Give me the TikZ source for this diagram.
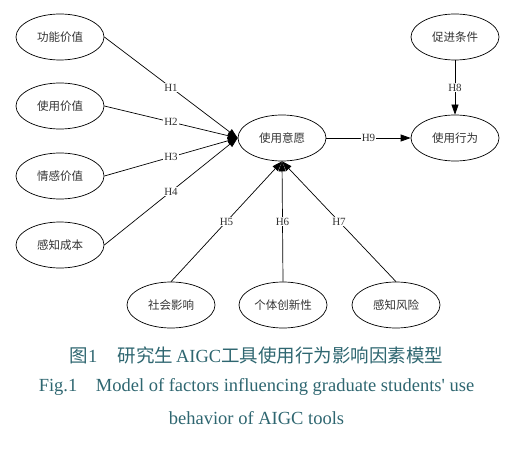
\documentclass[tikz,border=0pt]{standalone}
\usepackage{fontspec}
\setmainfont{Liberation Serif}[Ligatures=TeXOff]
\newfontfamily\cjk{Noto Sans CJK SC}
\usetikzlibrary{shapes.geometric,arrows.meta}
\definecolor{captc}{HTML}{2E6670}
\definecolor{txtc}{HTML}{333333}
\tikzset{
  ell/.style={draw, ellipse, line width=0.7pt, minimum width=88pt, minimum height=46pt, inner sep=0pt, font=\cjk\fontsize{11.5}{13}\selectfont, text=txtc},
  arr/.style={line width=0.7pt, -{Triangle[length=10pt,width=7pt]}},
  lbl/.style={fill=white, inner sep=1pt, font=\fontsize{11}{12}\selectfont, text=txtc},
  capt/.style={text=captc, font=\fontsize{18.5}{21}\selectfont}
}
\begin{document}
\begin{tikzpicture}[x=1pt,y=-1pt]
\useasboundingbox (0,0) rectangle (513,449);
\node[ell] (a1) at (60,37) {功能价值};
\node[ell] (a2) at (60,106) {使用价值};
\node[ell] (a3) at (60,176) {情感价值};
\node[ell] (a4) at (60,245) {感知成本};
\node[ell] (yy) at (282,138) {使用意愿};
\node[ell] (cj) at (455,37) {促进条件};
\node[ell] (xw) at (455,138) {使用行为};
\node[ell] (b1) at (171,305) {社会影响};
\node[ell] (b2) at (283,305) {个体创新性};
\node[ell] (b3) at (396,305) {感知风险};
\draw[arr] (a1.east) -- node[lbl]{H1} (yy.west);
\draw[arr] (a2.east) -- node[lbl]{H2} (yy.west);
\draw[arr] (a3.east) -- node[lbl]{H3} (yy.west);
\draw[arr] (a4.east) -- node[lbl]{H4} (yy.west);
\draw[arr] (b1.north) -- node[lbl]{H5} (yy.south);
\draw[arr] (b2.north) -- node[lbl]{H6} (yy.south);
\draw[arr] (b3.north) -- node[lbl]{H7} (yy.south);
\draw[arr] (cj.south) -- node[lbl]{H8} (xw.north);
\draw[arr] (yy.east) -- node[lbl]{H9} (xw.west);
\node[capt] (c1) at (256.5,355) {{\cjk 图}1\hspace{1.1em}{\cjk 研究生}\hspace{0.15em}AIGC{\cjk 工具使用行为影响因素模型}};
\node[capt] (c2) at (256.5,387) {Fig.1\hspace{1em}Model of factors influencing graduate students' use};
\node[capt] (c3) at (256.5,418) {behavior of AIGC tools};
\end{tikzpicture}
\end{document}
